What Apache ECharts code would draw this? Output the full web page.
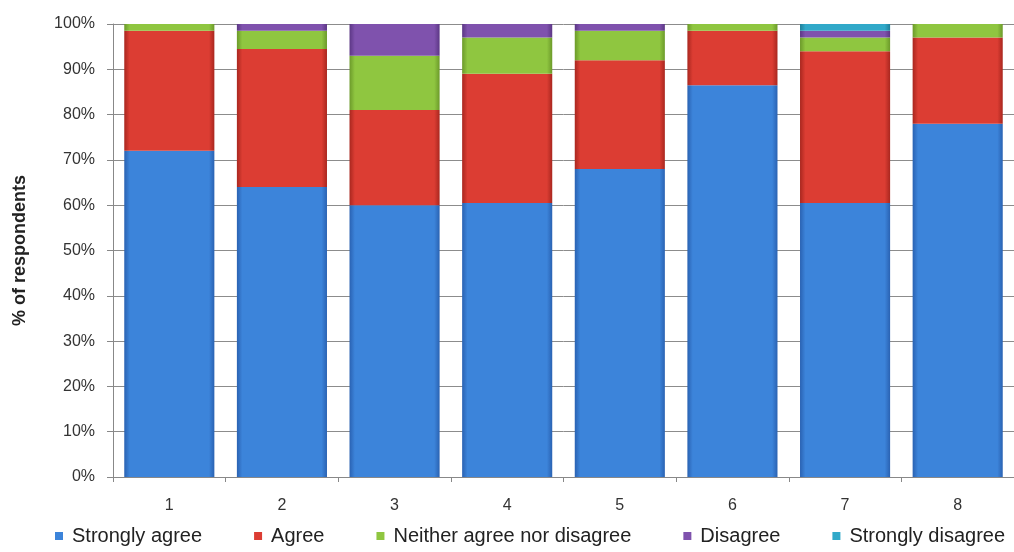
<!DOCTYPE html>
<html>
<head>
<meta charset="utf-8">
<script src="https://cdn.jsdelivr.net/npm/echarts@6/dist/echarts.min.js"></script>
<style>
  html, body { margin: 0; padding: 0; background: #fff; }
  #chart_box { width: 1014px; height: 552px; }
</style>
</head>
<body>
<div id="chart_box"></div>
<script>
var categories = ['1', '2', '3', '4', '5', '6', '7', '8']
var seriesNames = ['Strongly agree', 'Agree', 'Neither agree nor disagree', 'Disagree', 'Strongly disagree']
var stronglyAgree = [72, 64, 60, 60.5, 68, 86.5, 60.5, 78]
var agree = [26.5, 30.5, 21, 28.5, 24, 12, 33.5, 19]
var neither = [1.5, 4, 12, 8, 6.5, 1.5, 3, 3]
var disagree = [0, 1.5, 7, 3, 1.5, 0, 1.5, 0]
var stronglyDisagree = [0, 0, 0, 0, 0, 0, 1.5, 0]

var chartDom = document.getElementById('chart_box')
var myChart = echarts.init(chartDom)
var option

// main colour + darker edge colour, for a rough bevel look
var colors = [
  ['#3c84da', '#2a62b2'],
  ['#dc3d33', '#a9271f'],
  ['#8fc640', '#6c9a2a'],
  ['#7f52ad', '#5c3785'],
  ['#31a9c9', '#1f7f99']
]

function bevel(c) {
  return {
    type: 'linear', x: 0, y: 0, x2: 1, y2: 0,
    colorStops: [
      { offset: 0, color: c[1] },
      { offset: 0.06, color: c[0] },
      { offset: 0.94, color: c[0] },
      { offset: 1, color: c[1] }
    ]
  }
}

var allData = [stronglyAgree, agree, neither, disagree, stronglyDisagree]

option = {
  animation: false,
  grid: {
    left: 113,
    top: 24,
    width: 912,
    height: 453
  },
  legend: {
    bottom: 1,
    left: 50,
    itemWidth: 8,
    itemHeight: 8,
    itemGap: 52,
    icon: 'rect',
    textStyle: {
      fontFamily: 'Liberation Sans',
      fontSize: 20,
      color: '#222',
      padding: [0, 0, 0, 4]
    },
    data: seriesNames.map(function(n, i) {
      return { name: n, itemStyle: { color: colors[i][0] } }
    })
  },
  xAxis: {
    type: 'category',
    data: categories,
    axisLine: { lineStyle: { color: '#888' } },
    axisTick: { show: true, length: 5, lineStyle: { color: '#888' } },
    axisLabel: {
      fontFamily: 'Liberation Sans',
      fontSize: 16,
      color: '#333',
      margin: 21
    }
  },
  yAxis: {
    type: 'value',
    min: 0,
    max: 100,
    interval: 10,
    name: '% of respondents',
    nameLocation: 'middle',
    nameGap: 84,
    nameTextStyle: {
      fontFamily: 'Liberation Sans',
      fontSize: 18,
      fontWeight: 'bold',
      color: '#222'
    },
    axisLine: { show: true, lineStyle: { color: '#888' } },
    axisTick: { show: true, length: 6, lineStyle: { color: '#888' } },
    axisLabel: {
      formatter: '{value}%',
      fontFamily: 'Liberation Sans',
      fontSize: 16,
      color: '#333',
      margin: 18
    },
    splitLine: { lineStyle: { color: '#8c8c8c', width: 1 } }
  },
  series: allData.map(function(d, idx) {
    return {
      name: seriesNames[idx],
      type: 'bar',
      stack: 'total',
      barCategoryGap: '20%',
      itemStyle: { color: bevel(colors[idx]) },
      data: d
    }
  })
}

option && myChart.setOption(option)
</script>
</body>
</html>
